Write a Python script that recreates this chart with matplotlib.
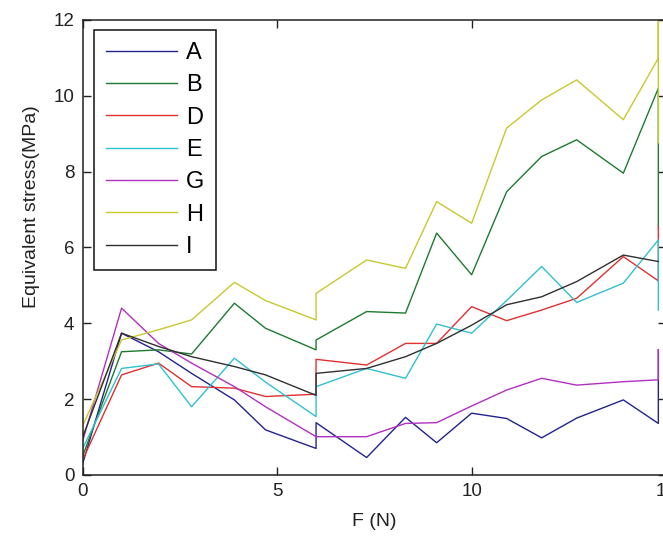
import matplotlib
matplotlib.use("Agg")
import matplotlib.pyplot as plt

# force values (N); 6.0 appears twice because the curves restart there
force = [0, 1.0, 1.95, 2.8, 3.9, 4.7, 6.0, 6.0, 7.3, 8.3, 9.1, 10.0, 10.9, 11.8, 12.7, 13.9, 14.8]

# equivalent stress (MPa) per case
A = [0.30, 3.74, 3.25, 2.68, 1.98, 1.19, 0.70, 1.38, 0.46, 1.52, 0.85, 1.63, 1.49, 0.98, 1.50, 1.98, 1.36]
B = [0.50, 3.25, 3.30, 3.19, 4.53, 3.87, 3.30, 3.56, 4.31, 4.27, 6.38, 5.28, 7.47, 8.40, 8.84, 7.96, 10.20]
D = [0.40, 2.64, 2.95, 2.33, 2.29, 2.07, 2.13, 3.05, 2.90, 3.47, 3.47, 4.44, 4.07, 4.35, 4.66, 5.76, 5.12]
E = [0.70, 2.81, 2.93, 1.80, 3.08, 2.45, 1.54, 2.33, 2.81, 2.55, 3.98, 3.74, 4.60, 5.50, 4.55, 5.06, 6.20]
G = [0.90, 4.40, 3.47, 2.95, 2.33, 1.80, 1.01, 1.01, 1.01, 1.36, 1.38, 1.82, 2.24, 2.55, 2.37, 2.46, 2.51]
H = [1.30, 3.56, 3.83, 4.09, 5.08, 4.60, 4.09, 4.79, 5.67, 5.45, 7.21, 6.64, 9.15, 9.89, 10.42, 9.37, 10.99]
I = [1.00, 3.74, 3.39, 3.12, 2.86, 2.64, 2.10, 2.68, 2.81, 3.12, 3.47, 3.95, 4.49, 4.70, 5.10, 5.80, 5.63]

# extra values at the last force step (start of the next run, only the jump is visible)
tail_force = 14.8
A_tail = [3.3]
B_tail = [6.55]
D_tail = [6.55]
E_tail = [4.35]
G_tail = [3.3]
H_tail = [12.5, 8.76]
I_tail = []

names = ["A", "B", "D", "E", "G", "H", "I"]
series = [A, B, D, E, G, H, I]
tails = [A_tail, B_tail, D_tail, E_tail, G_tail, H_tail, I_tail]
colors = ["#22228f", "#1e7a30", "#e03030", "#30c0d0", "#b030c0", "#c8c830", "#303030"]

plt.rcParams["font.family"] = ["Liberation Sans", "DejaVu Sans"]

fig = plt.figure(figsize=(6.63, 5.40), dpi=100)
# right edge of the axes sits just past the picture, like the cropped original
ax = fig.add_axes([0.1247, 0.1204, 0.8800, 0.8426])

for name, ys, tail, c in zip(names, series, tails, colors):
    xs = force + [tail_force] * len(tail)
    ax.plot(xs, ys + tail, color=c, linewidth=1.0, label=name)

ax.set_xlim(0, 15)
ax.set_ylim(0, 12)
ax.set_xticks([0, 5, 10, 15])
ax.set_yticks([0, 2, 4, 6, 8, 10, 12])
ax.tick_params(direction="in", length=6, width=1, top=True, right=True,
               labelsize=13.5, pad=6, colors="#222222")
for sp in ax.spines.values():
    sp.set_linewidth(1.1)
    sp.set_color("#222222")

ax.set_xlabel("F (N)", fontsize=14, labelpad=9, color="#222222")
ax.set_ylabel("Equivalent stress(MPa)", fontsize=14, color="#222222")
ax.yaxis.set_label_coords(-0.074, 0.59)

leg = ax.legend(loc="upper left", bbox_to_anchor=(0.0194, 0.978), borderaxespad=0,
                fontsize=17, handlelength=3.0, handletextpad=0.4, labelspacing=0.44,
                borderpad=0.5, fancybox=False, framealpha=1)
leg.get_frame().set_edgecolor("#111111")
leg.get_frame().set_linewidth(1.1)

fig.savefig("out.png", dpi=100)
